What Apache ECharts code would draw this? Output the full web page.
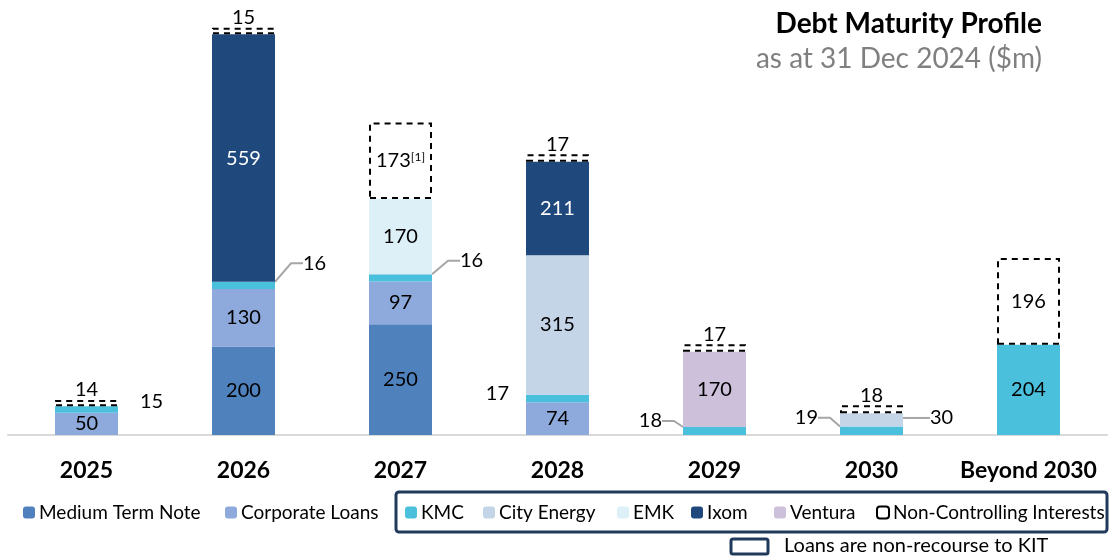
<!DOCTYPE html>
<html>
<head>
<meta charset="utf-8">
<script src="https://cdn.jsdelivr.net/npm/echarts@6/dist/echarts.min.js"></script>
<style>
    html, body { margin: 0; padding: 0; background: #fff; }
    #chart { width: 1115px; height: 556px; }
</style>
</head>
<body>
<div id="chart"></div>
<script>
    // data ($m)
    const categories = ['2025', '2026', '2027', '2028', '2029', '2030', 'Beyond 2030'];
    const mediumTermNote = [null, 200, 250, null, null, null, null];
    const corporateLoans = [50, 130, 97, 74, null, null, null];
    const kmc = [15, 16, 16, 17, 18, 19, 204];
    const cityEnergy = [null, null, null, 315, null, 30, null];
    const emk = [null, null, 170, null, null, null, null];
    const ixom = [null, 559, null, 211, null, null, null];
    const ventura = [null, null, null, null, 170, null, null];
    const nonControlling = [14, 15, 173, 17, 17, 18, 196];

    const FONT = 'Lato';

    // where the small labels go (series name -> category index -> placement)
    const outside = {
        'KMC': {
            0: { position: 'right', distance: 22, dy: -8, line: false },
            1: { position: 'right', distance: 28, dy: -22, line: true },
            2: { position: 'right', distance: 28, dy: -17, line: true },
            3: { position: 'left', distance: 17, dy: -5, line: false },
            4: { position: 'left', distance: 21, dy: -10, line: true },
            5: { position: 'left', distance: 22, dy: -13, line: true }
        },
        'City Energy': {
            5: { position: 'right', distance: 27, dy: -2, line: true }
        }
    };

    function buildData(name, values) {
        return values.map((v, i) => {
            const o = outside[name] && outside[name][i];
            if (v == null) return null;
            if (!o) return v;
            return {
                value: v,
                label: { position: o.position, distance: o.distance },
                labelLine: { show: o.line }
            };
        });
    }

    function barSeries(name, values, color, textColor) {
        return {
            name: name,
            type: 'bar',
            stack: 'debt',
            barWidth: 63,
            data: buildData(name, values),
            itemStyle: { color: color },
            label: {
                show: true,
                position: 'inside',
                color: textColor || '#000',
                fontSize: 20,
                fontFamily: FONT
            },
            labelLine: {
                show: false,
                length2: 12,
                lineStyle: { color: '#a6a6a6', width: 2 }
            },
            labelLayout: function (params) {
                const o = outside[name] && outside[name][params.dataIndex];
                return o ? { dy: o.dy } : {};
            }
        };
    }

    const series = [
        barSeries('Medium Term Note', mediumTermNote, '#4f81bd'),
        barSeries('Corporate Loans', corporateLoans, '#8ea9db'),
        barSeries('KMC', kmc, '#4bc0dd'),
        barSeries('City Energy', cityEnergy, '#c5d5e8'),
        barSeries('EMK', emk, '#ddf0f7'),
        barSeries('Ixom', ixom, '#1f497d', '#fff'),
        barSeries('Ventura', ventura, '#ccc0da'),
        {
            name: 'Non-Controlling Interests',
            type: 'bar',
            stack: 'debt',
            barWidth: 63,
            data: nonControlling.map(v => v > 100 ? { value: v, label: { position: 'inside' } } : v),
            itemStyle: {
                color: 'rgba(255,255,255,0)',
                borderColor: '#000',
                borderWidth: 2,
                borderType: [6, 5]
            },
            label: {
                show: true,
                position: 'top',
                distance: 0,
                color: '#000',
                fontSize: 20,
                fontFamily: FONT,
                formatter: function (p) {
                    return p.dataIndex === 2 ? '{a|' + p.value + '}{s|[1]}' : String(p.value);
                },
                rich: {
                    a: { fontSize: 20, fontFamily: FONT, color: '#000' },
                    s: { fontSize: 12, fontFamily: FONT, color: '#000', verticalAlign: 'top', padding: [0, 0, 8, 0] }
                }
            }
        }
    ];

    // legend entries placed one by one
    const legendNames = ['Medium Term Note', 'Corporate Loans', 'KMC', 'City Energy', 'EMK', 'Ixom', 'Ventura', 'Non-Controlling Interests'];
    const legendLefts = [23, 225, 405, 483, 617, 691, 774, 876];

    const legends = legendNames.map((n, i) => ({
        data: [n],
        left: legendLefts[i],
        top: 503,
        padding: 0,
        itemWidth: 12,
        itemHeight: 12,
        itemGap: 5,
        selectedMode: false,
        textStyle: { fontSize: 19, fontFamily: FONT, color: '#000', padding: [0, 0, 0, -1] }
    }));

    const option = {
        animation: false,
        title: [
            {
                text: 'Debt Maturity Profile',
                right: 68,
                top: 5,
                textStyle: { fontSize: 28, fontWeight: 'bold', fontFamily: FONT, color: '#000' }
            },
            {
                text: 'as at 31 Dec 2024 ($m)',
                right: 68,
                top: 40,
                textStyle: { fontSize: 28, fontWeight: 'normal', fontFamily: FONT, color: '#808080' }
            }
        ],
        legend: legends,
        grid: { left: 8, right: 8, top: 10, bottom: 121 },
        xAxis: {
            type: 'category',
            data: categories,
            axisTick: { show: false },
            axisLine: { lineStyle: { color: '#d9d9d9', width: 2 } },
            axisLabel: {
                interval: 0,
                margin: 24,
                fontSize: 23,
                fontWeight: 'bold',
                fontFamily: FONT,
                color: '#000'
            }
        },
        yAxis: {
            type: 'value',
            min: 0,
            max: 960,
            show: false
        },
        graphic: [
            {
                type: 'rect',
                shape: { x: 396, y: 492, width: 711, height: 40, r: 3 },
                style: { fill: 'none', stroke: '#1f3a5a', lineWidth: 3 }
            },
            {
                type: 'rect',
                shape: { x: 731, y: 539, width: 37, height: 15, r: 2 },
                style: { fill: 'none', stroke: '#1f3a5a', lineWidth: 3 }
            },
            {
                type: 'text',
                x: 784,
                y: 546,
                style: {
                    text: 'Loans are non-recourse to KIT',
                    fontSize: 20,
                    fontFamily: FONT,
                    fill: '#000',
                    verticalAlign: 'middle'
                }
            }
        ],
        series: series
    };

    const chart = echarts.init(document.getElementById('chart'));
    chart.setOption(option);
</script>
</body>
</html>
